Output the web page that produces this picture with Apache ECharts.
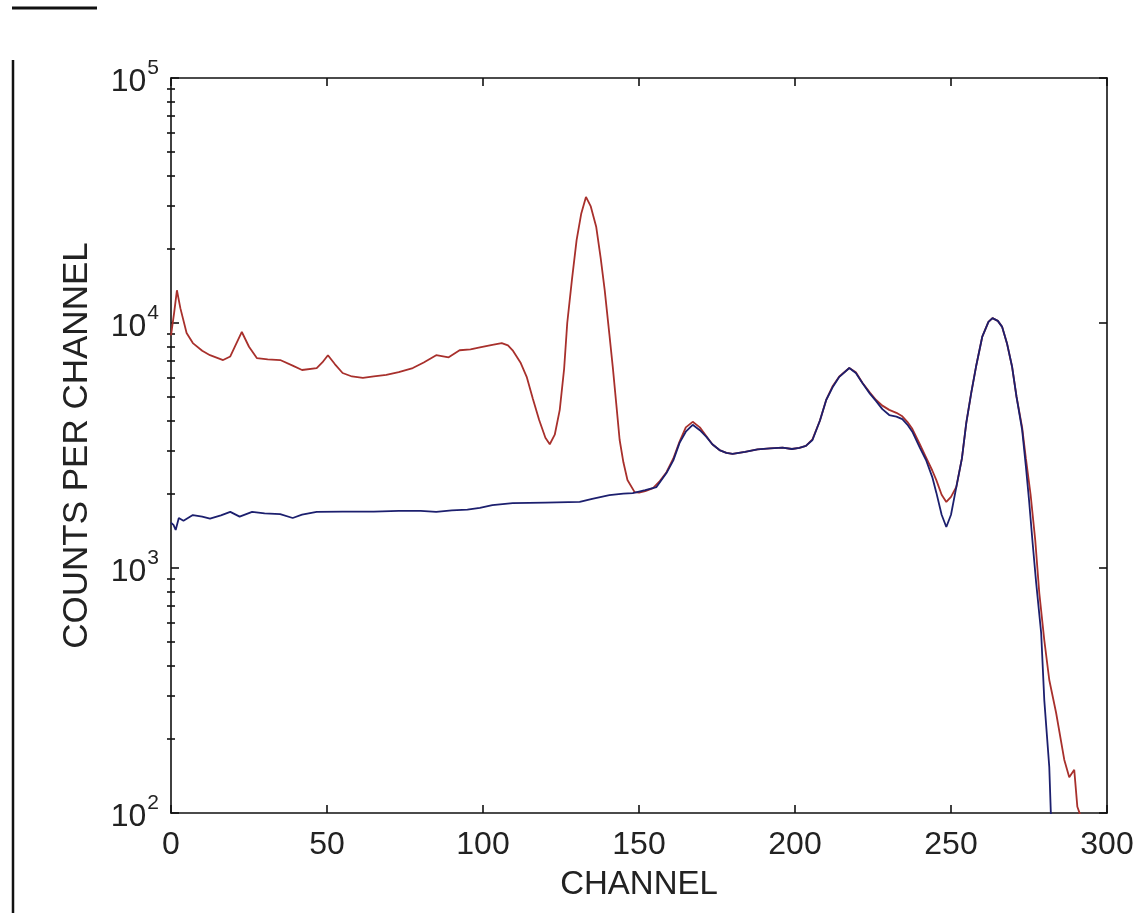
<!DOCTYPE html>
<html>
<head>
<meta charset="utf-8">
<script src="https://cdn.jsdelivr.net/npm/echarts@6/dist/echarts.min.js"></script>
<style>
html,body{margin:0;padding:0;background:#fff;}
#chart{width:1137px;height:913px;}
</style>
</head>
<body>
<div id="chart"></div>
<script>
// ---- data ----
const redChannels = [0,1,1.9,3,5,7,10,12.5,16.7,19,22.7,25,27.5,31,35,39,42,46.7,48.5,50.3,52.5,55,58,61.5,65,69,73,77.5,81,85,89,92.5,96,99,103,106,108,109.5,112,114,116,118,120,121.4,123,124.6,126,127,128.5,130,131.5,133,134.5,136.3,137.7,139,140.5,141.6,142.7,143.8,145,146.3,148.6,150,152,154.5,156.5,158.8,161,163,165,167.2,169.5,171.6,173.5,175.8,178,180,184,188,192,196,199,201.4,203.5,205.6,208,210,212,214.2,217.4,219.5,221.6,224,226,228,230.2,232.5,234.4,236,237.6,240,242,244,245.3,247,248.5,250,251.7,253.5,254.9,256.5,258,260,262,263.3,265,266.4,268,269.6,271,272.8,274,275.5,277,278.3,279.9,281.5,283.7,286.3,287.9,289.5,290.5,291.7,293,294.5,296,298];
const redCounts = [8900,11000,13600,11500,9100,8280,7700,7390,7060,7300,9190,8000,7190,7100,7060,6700,6430,6550,6900,7390,6800,6250,6050,5970,6050,6140,6300,6550,6900,7390,7240,7740,7800,7950,8150,8280,8100,7740,6900,6030,4900,4020,3400,3200,3500,4420,6500,10000,15000,21800,28000,32700,30000,24650,18500,13650,9000,6610,4700,3330,2700,2285,2040,2030,2060,2120,2250,2460,2800,3280,3750,3950,3750,3450,3200,3030,2950,2920,2980,3050,3080,3100,3060,3090,3150,3350,4000,4850,5500,6050,6550,6300,5700,5200,4850,4600,4420,4300,4160,3950,3700,3200,2830,2500,2285,1990,1860,1950,2140,2800,3910,5200,6610,8770,10100,10470,10200,9640,8200,6610,5000,3750,2800,2000,1300,790,508,349,256,165,140,150,106,96,88,98,90,82];

const blueChannels = [0,0.8,1.5,2.5,4,7,10,12.5,16,19,22,26,30,35,39,42,46.7,55,65,73,80,85,90,95,99,103,109.5,120,131,135,140.5,145,148,152,155.6,158.8,161,163,165,167.2,169.5,171.6,173.5,175.8,178,180,184,188,192,196,199,201.4,203.5,205.6,208,210,212,214.2,217.4,219.5,221.6,224,226,228,230.2,232.5,234.4,236,237.6,240,242,244,245.3,247,248.5,250,251.7,253.5,254.9,256.5,258,260,262,263.3,265,266.4,268,269.6,271,272.8,274,275,276.2,277.3,278.9,279.9,281.5,282,283];
const blueCounts = [1530,1500,1430,1600,1560,1645,1620,1590,1640,1695,1620,1695,1670,1660,1600,1650,1695,1700,1700,1710,1710,1695,1720,1730,1760,1807,1840,1850,1860,1915,1985,2010,2020,2080,2140,2440,2750,3240,3600,3840,3650,3430,3200,3030,2950,2920,2980,3050,3080,3100,3060,3090,3150,3330,4000,4850,5450,6030,6550,6250,5690,5150,4800,4450,4210,4150,4050,3850,3600,3100,2760,2350,2030,1650,1470,1650,2140,2800,3910,5200,6610,8770,10100,10470,10200,9640,8200,6610,5000,3660,2600,1900,1250,869,543,289,154,100,80];

const xTicks = [0, 300, 50];            // min, max, interval
const yRange = [100, 100000];
const minorTickValues = [200,300,400,500,600,700,800,900,2000,3000,4000,5000,6000,7000,8000,9000,20000,30000,40000,50000,60000,70000,80000,90000];
const xName = 'CHANNEL';
const yName = 'COUNTS PER CHANNEL';

// ---- chart ----
const FONT = "'Liberation Sans', Arial, sans-serif";
const INK = '#222';
const chart = echarts.init(document.getElementById('chart'), null, {renderer: 'canvas'});

function toPairs(xs, ys) { return xs.map((x, i) => [x, ys[i]]); }

const axisLineStyle = {color: '#111', width: 1.6};
const yBase = {type: 'log', logBase: 10, min: yRange[0], max: yRange[1], splitLine: {show: false}};

const option = {
  backgroundColor: '#fff',
  animation: false,
  grid: {left: 171, right: 30, top: 78, bottom: 100, containLabel: false},
  xAxis: [
    {
      type: 'value', position: 'bottom', min: xTicks[0], max: xTicks[1], interval: xTicks[2],
      axisLine: {show: true, onZero: false, lineStyle: axisLineStyle},
      axisTick: {show: true, inside: true, length: 8, lineStyle: axisLineStyle},
      axisLabel: {show: true, margin: 16, color: INK, fontFamily: FONT, fontSize: 32},
      splitLine: {show: false},
      name: xName, nameLocation: 'middle', nameGap: 55,
      nameTextStyle: {color: INK, fontFamily: FONT, fontSize: 33}
    },
    {
      type: 'value', position: 'top', min: xTicks[0], max: xTicks[1], interval: xTicks[2],
      axisLine: {show: true, onZero: false, lineStyle: axisLineStyle},
      axisTick: {show: true, inside: true, length: 8, lineStyle: axisLineStyle},
      axisLabel: {show: false}, splitLine: {show: false}
    }
  ],
  yAxis: [
    Object.assign({}, yBase, {
      position: 'left',
      axisLine: {show: true, onZero: false, lineStyle: axisLineStyle},
      axisTick: {show: true, inside: true, length: 8, lineStyle: axisLineStyle},
      axisLabel: {
        show: true, margin: 12,
        formatter: function (v) { return '{b|10}{s|' + Math.round(Math.log10(v)) + '}'; },
        rich: {
          b: {fontSize: 32, fontFamily: FONT, color: INK, lineHeight: 40, verticalAlign: 'bottom'},
          s: {fontSize: 21, fontFamily: FONT, color: INK, lineHeight: 40, verticalAlign: 'top', padding: [0, 0, 0, 1]}
        }
      },
      name: yName, nameLocation: 'middle', nameGap: 76, nameRotate: 90,
      nameTextStyle: {color: INK, fontFamily: FONT, fontSize: 35}
    }),
    Object.assign({}, yBase, {
      position: 'left',
      axisLine: {show: false},
      axisTick: {show: true, inside: true, length: 4, customValues: minorTickValues, lineStyle: axisLineStyle},
      axisLabel: {show: false}
    }),
    Object.assign({}, yBase, {
      position: 'right',
      axisLine: {show: true, onZero: false, lineStyle: axisLineStyle},
      axisTick: {show: true, inside: true, length: 8, lineStyle: axisLineStyle},
      axisLabel: {show: false}
    }),
    Object.assign({}, yBase, {
      position: 'right',
      axisLine: {show: false},
      axisTick: {show: true, inside: true, length: 4, customValues: minorTickValues, lineStyle: axisLineStyle},
      axisLabel: {show: false}
    })
  ],
  graphic: [
    {type: 'line', shape: {x1: 12, y1: 8, x2: 97, y2: 8}, style: {stroke: '#111', lineWidth: 3}},
    {type: 'line', shape: {x1: 13, y1: 60, x2: 13, y2: 913}, style: {stroke: '#111', lineWidth: 2.5}}
  ],
  series: [
    {
      name: 'red', type: 'line', xAxisIndex: 0, yAxisIndex: 0,
      data: toPairs(redChannels, redCounts),
      showSymbol: false, symbol: 'none', clip: true,
      lineStyle: {color: '#a8302c', width: 1.8}
    },
    {
      name: 'blue', type: 'line', xAxisIndex: 0, yAxisIndex: 0,
      data: toPairs(blueChannels, blueCounts),
      showSymbol: false, symbol: 'none', clip: true,
      lineStyle: {color: '#1c1f6e', width: 1.8}
    }
  ]
};
chart.setOption(option);
</script>
</body>
</html>
